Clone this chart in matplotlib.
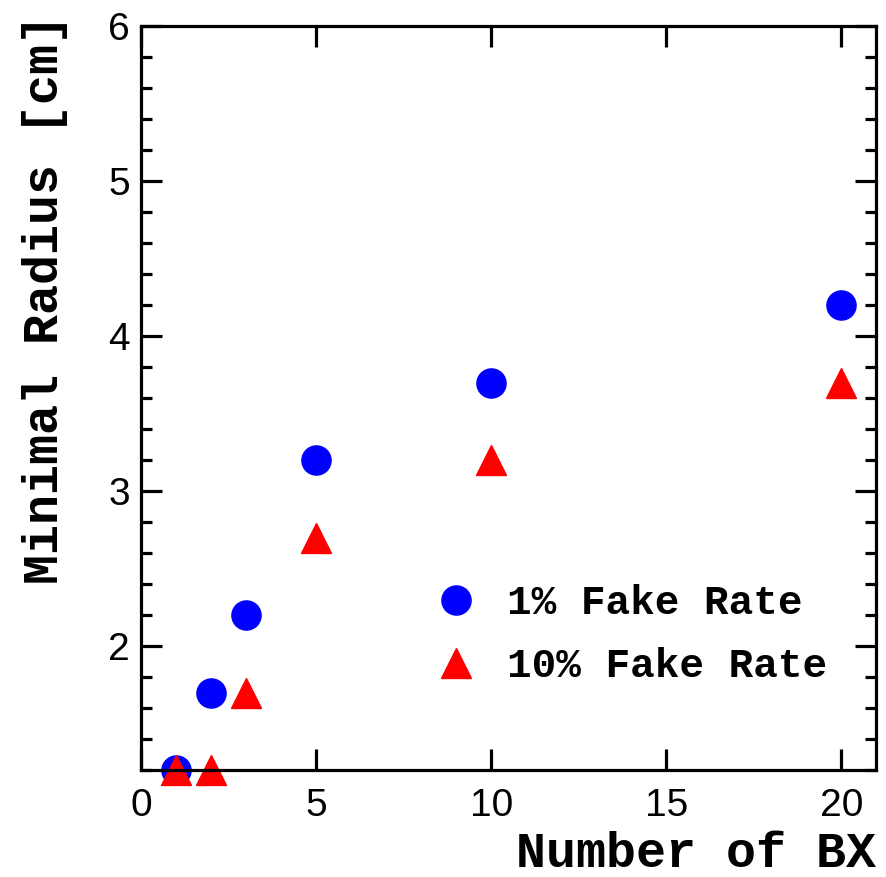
import numpy as np
import matplotlib
matplotlib.use('Agg')
import matplotlib.pyplot as plt
from matplotlib.ticker import MultipleLocator

# Minimal radius versus number of bunch crossings
bx = [1, 2, 3, 5, 10, 20]
radius_1pct = [1.2, 1.7, 2.2, 3.2, 3.7, 4.2]
radius_10pct = [1.2, 1.2, 1.7, 2.7, 3.2, 3.7]
labels = ['1% Fake Rate', '10% Fake Rate']

mono = 'Liberation Mono'
sans = 'Liberation Sans'

fig = plt.figure(figsize=(8.87, 8.77), dpi=100)
ax = fig.add_axes([0.159, 0.122, 0.829, 0.848])

ax.plot(bx, radius_1pct, 'o', color='blue', ms=21, clip_on=False, label=labels[0])
ax.plot(bx, radius_10pct, '^', color='red', ms=22, clip_on=False, label=labels[1])

ax.set_xlim(0, 21)
ax.set_ylim(1.2, 6)
ax.set_xticks([0, 5, 10, 15, 20])
ax.set_yticks([2, 3, 4, 5, 6])
ax.yaxis.set_minor_locator(MultipleLocator(0.2))

for s in ax.spines.values():
    s.set_linewidth(2.3)
ax.tick_params(which='both', direction='in', top=True, right=True, width=2.3)
ax.tick_params(which='major', length=15, labelsize=28, labelfontfamily=sans)
ax.tick_params(which='minor', length=8)
ax.tick_params(axis='x', pad=13)
ax.tick_params(axis='y', pad=8)

ax.set_xlabel('Number of BX', fontfamily=mono, fontweight='bold', fontsize=36)
ax.xaxis.set_label_coords(1.0, -0.113)
ax.xaxis.label.set_ha('right')
ax.xaxis.label.set_va('center')
ax.set_ylabel('Minimal Radius [cm]', fontfamily=mono, fontweight='bold', fontsize=36)
ax.yaxis.set_label_coords(-0.131, 1.016)
ax.yaxis.label.set_ha('right')
ax.yaxis.label.set_va('center')

leg = ax.legend(loc='center left', bbox_to_anchor=(0.336, 0.182), frameon=False,
                prop={'family': mono, 'weight': 'bold', 'size': 29.5},
                handletextpad=0.5, labelspacing=0.6, handlelength=1.5)

fig.savefig('out.png', dpi=100)
